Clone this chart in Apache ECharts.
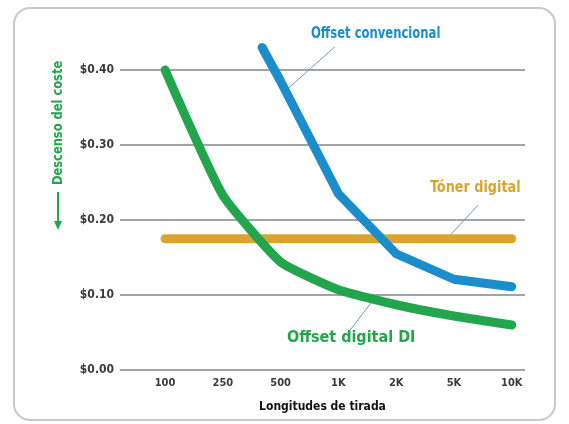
<!DOCTYPE html>
<html><head><meta charset="utf-8">
<script src="https://cdn.jsdelivr.net/npm/echarts@6/dist/echarts.min.js"></script>
<style>html,body{margin:0;padding:0;background:#fff}#c{width:569px;height:424px}</style>
</head><body><div id="c"></div>
<script>
const categories = ['100','250','500','1K','2K','5K','10K'];
const yTicks = ['$0.00','$0.10','$0.20','$0.30','$0.40'];
// Offset digital DI (green), one value per category
const diValues = [0.40, 0.233, 0.144, 0.107, 0.087, 0.072, 0.060];
// Offset convencional (blue): starts between 250 and 500
const convPos = [1.68, 2, 3, 4, 5, 6];
const convValues = [0.43, 0.385, 0.235, 0.155, 0.121, 0.111];
// Tóner digital (orange), flat
const tonerValues = [0.175, 0.175, 0.175, 0.175, 0.175, 0.175, 0.175];
// leader lines (data coords: [categoryIndex, value])
const leaders = [
  {from:[2.94,0.431], to:[2.08,0.372]},
  {from:[5.42,0.22], to:[4.9,0.177]},
  {from:[3.58,0.091], to:[3.2,0.053]}
];

const FONT = '"DejaVu Sans Condensed", "Liberation Sans", sans-serif';
const GREEN = '#22a54c', BLUE = '#1b8dcb', ORANGE = '#dba431';

const chart = echarts.init(document.getElementById('c'), null, {renderer:'canvas'});
chart.setOption({
  animation: false,
  grid: {left:120, right:44, top:70, bottom:54},
  xAxis: {
    type:'value', min:-0.78, max:6.23,
    axisLine:{show:false}, axisTick:{show:false}, splitLine:{show:false},
    axisLabel:{customValues:[0,1,2,3,4,5,6], formatter:v=>categories[Math.round(v)],
      color:'#3a3a3a', fontFamily:FONT, fontWeight:'bold', fontSize:11, margin:8},
    name:'Longitudes de tirada', nameLocation:'middle', nameGap:31,
    nameTextStyle:{color:'#111', fontFamily:FONT, fontWeight:'bold', fontSize:12}
  },
  yAxis: {
    type:'value', min:0, max:0.4, interval:0.1,
    axisLine:{show:false}, axisTick:{show:false},
    splitLine:{lineStyle:{color:'#a3a3a3', width:2}},
    axisLabel:{formatter:v=>yTicks[Math.round(v*10)], color:'#3a3a3a', fontFamily:FONT,
      fontWeight:'bold', fontSize:12, margin:6}
  },
  series: [
    {type:'line', name:'Tóner digital', data:tonerValues.map((v,i)=>[i,v]), symbol:'none',
     clip:false, lineStyle:{color:ORANGE, width:9, cap:'round', join:'round'}},
    {type:'line', name:'Offset convencional', data:convValues.map((v,i)=>[convPos[i],v]), symbol:'none',
     clip:false, lineStyle:{color:BLUE, width:9, cap:'round', join:'round'}},
    {type:'line', name:'Offset digital DI', data:diValues.map((v,i)=>[i,v]), symbol:'none',
     clip:false, smooth:0.15, lineStyle:{color:GREEN, width:9, cap:'round', join:'round'}}
  ],
  graphic: [
    {type:'rect', shape:{x:14, y:8, width:541, height:412, r:16}, silent:true,
     style:{fill:'none', stroke:'#c9c9c9', lineWidth:2}},
    {type:'text', x:311, y:27, scaleX:0.86, style:{text:'Offset convencional', fill:BLUE,
      font:'bold 15px '+FONT}},
    {type:'text', x:430, y:181, scaleX:0.95, style:{text:'Tóner digital', fill:ORANGE,
      font:'bold 15px '+FONT}},
    {type:'text', left:287, top:330, style:{text:'Offset digital DI', fill:GREEN,
      font:'bold 16px '+FONT}},
    {type:'text', x:51, y:185, rotation:Math.PI/2, scaleX:0.91, style:{text:'Descenso del coste', fill:GREEN,
      font:'bold 14px '+FONT, align:'left', verticalAlign:'top'}},
    {type:'line', shape:{x1:58, y1:192, x2:58, y2:222}, style:{stroke:GREEN, lineWidth:2}},
    {type:'polygon', shape:{points:[[54,221],[62,221],[58,230]]}, style:{fill:GREEN}}
  ]
});
const extra = leaders.map(l => {
  const a = chart.convertToPixel({gridIndex:0}, l.from);
  const b = chart.convertToPixel({gridIndex:0}, l.to);
  return {type:'line', silent:true, shape:{x1:a[0], y1:a[1], x2:b[0], y2:b[1]},
    style:{stroke:'#6f9fb0', lineWidth:1}};
});
chart.setOption({graphic: chart.getOption().graphic[0].elements.concat(extra)}, {replaceMerge:['graphic']});
</script></body></html>
